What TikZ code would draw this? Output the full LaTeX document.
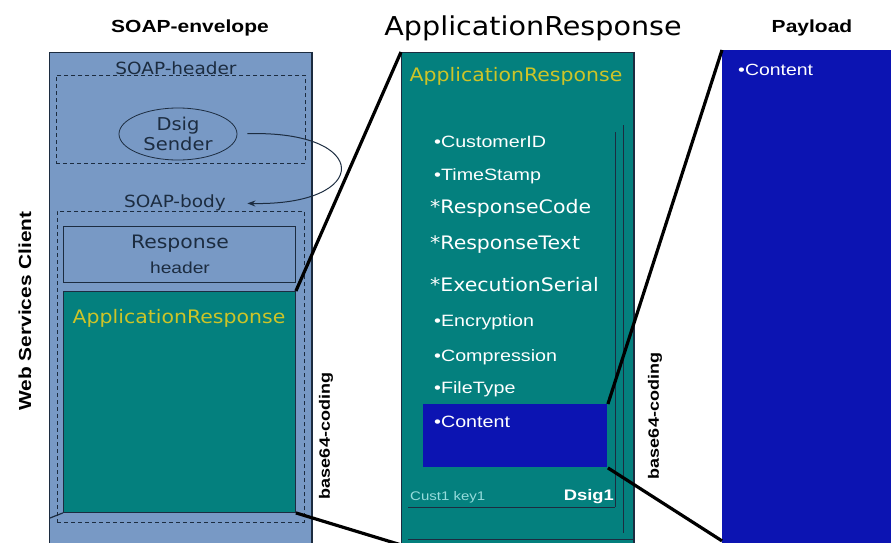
\documentclass[tikz,border=0pt]{standalone}
\usepackage{fontspec}
\setmainfont{Liberation Sans}[FakeStretch=1.2]
\newfontfamily\dvs{DejaVu Sans}[FakeStretch=1.1]
\usetikzlibrary{arrows.meta,shapes.geometric}

\definecolor{envfill}{RGB}{120,153,197}
\definecolor{tealfill}{RGB}{4,128,126}
\definecolor{bluefill}{RGB}{12,20,178}
\definecolor{arylw}{RGB}{205,196,40}
\definecolor{edge}{RGB}{28,44,64}
\definecolor{keytxt}{RGB}{150,220,220}

\newcommand{\fs}[1]{\fontsize{#1}{#1}\selectfont}

\tikzset{
  panel/.style={draw=edge, line width=0.9pt, anchor=north west, inner sep=0pt},
  dashbox/.style={draw=edge, line width=0.8pt, dash pattern=on 4pt off 3pt, anchor=north west, inner sep=0pt},
  zoomline/.style={line width=3.2pt, black},
  innerline/.style={draw=edge, line width=0.9pt},
  title/.style={font=\fs{17.5}\bfseries, text=black},
  item/.style={anchor=west, text=white, inner sep=0pt},
  bitem/.style={item, font=\fs{16.4}},
  ritem/.style={item, font=\dvs\fs{18.6}},
  vlabel/.style={rotate=90, font=\fs{15}\bfseries, text=black},
}

\begin{document}
\begin{tikzpicture}[x=1pt, y=-1pt]
\useasboundingbox (0,0) rectangle (891,543);

% ---------- SOAP envelope (left column) ----------
\node[title] (envtitle) at (190,28) {SOAP-envelope};
\node[panel, fill=envfill, minimum width=262pt, minimum height=492pt] (env) at (49,52) {};
\draw[edge, line width=1.8pt] (env.north east) -- (env.south east);

\node[dashbox, minimum width=249pt, minimum height=88pt] (hdr) at (56,75) {};
\node[font=\dvs\fs{16.8}, text=edge] (hdrlbl) at (176,68) {SOAP-header};
\node[ellipse, draw=edge, line width=0.8pt, minimum width=118pt, minimum height=52pt,
      align=center, font=\dvs\fs{17.7}, text=edge, inner sep=0pt] (dsig) at (178,134)
      {Dsig\\[2pt]Sender};

\node[dashbox, minimum width=247pt, minimum height=311pt] (body) at (57,211) {};
\node[font=\dvs\fs{16.8}, text=edge] (bodylbl) at (175,203) {SOAP-body};

\draw[edge, line width=1pt, -{Stealth[length=8pt,width=6pt]}, shorten <=10pt, shorten >=18pt]
  (dsig.east) .. controls (372,130) and (372,206) .. (bodylbl.east);

\node[panel, fill=envfill, minimum width=232pt, minimum height=56pt] (resph) at (63,226) {};
\node[font=\dvs\fs{18.5}, text=edge] (resplbl) at (180,244) {Response};
\node[font=\fs{16}, text=edge] (resplbl2) at (180,268) {header};

\node[panel, fill=tealfill, minimum width=232pt, minimum height=221pt] (arL) at (63,291) {};
\node[font=\dvs\fs{18.6}, text=arylw] (arLlbl) at (179,318) {ApplicationResponse};

\coordinate (envcorner) at (50,518);
\draw[edge, line width=1.2pt] (envcorner) -- (arL.south west);

\node[font=\fs{17.4}\bfseries, rotate=90] (wsc) at (25,311) {Web Services Client};
\node[vlabel] (b64a) at (326,436) {base64-coding};

% ---------- ApplicationResponse (middle column) ----------
\node[font=\dvs\fs{26}, text=black] (artitle) at (533,28) {ApplicationResponse};
\node[panel, fill=tealfill, minimum width=232pt, minimum height=492pt] (mid) at (401,52) {};
\draw[edge, line width=1.6pt] (mid.north east) -- (mid.south east);
\node[font=\dvs\fs{18.6}, text=arylw] (arMlbl) at (516,76) {ApplicationResponse};

\draw[innerline] (615,132) -- (615,507);
\draw[innerline] (623,125) -- (623,533);
\draw[innerline] (408,507) -- (615,507);
\draw[innerline] (408,539) -- (633,539);

\node[bitem] (cid) at (434,142) {•CustomerID};
\node[bitem] (ts)  at (434,176) {•TimeStamp};
\node[ritem] (rc)  at (430,208) {*ResponseCode};
\node[ritem] (rt)  at (430,245) {*ResponseText};
\node[ritem] (es)  at (430,285) {*ExecutionSerial};
\node[bitem] (enc) at (434,322) {•Encryption};
\node[bitem] (cmp) at (434,357) {•Compression};
\node[bitem] (ft)  at (434,389) {•FileType};

\node[panel, draw=none, fill=bluefill, minimum width=184pt, minimum height=63pt] (content) at (423,404) {};
\node[bitem] (ctxt) at (434,422) {•Content};

\node[anchor=west, inner sep=0pt, font=\fs{12.5}, text=keytxt] (key) at (410,497) {Cust1 key1};
\node[anchor=east, inner sep=0pt, font=\fs{15.3}\bfseries, text=white] (dsig1) at (614,497) {Dsig1};

\node[vlabel] (b64b) at (655,416) {base64-coding};

% ---------- Payload (right column) ----------
\node[title] (paytitle) at (812,28) {Payload};
\node[panel, draw=none, fill=bluefill, minimum width=170pt, minimum height=493pt] (pay) at (722,50) {};
\node[bitem, font=\fs{16.2}] (paytxt) at (738,70) {•Content};

% ---------- zoom connectors ----------
\draw[zoomline] (arL.north east) -- (mid.north west);
\draw[zoomline] (arL.south east) -- (mid.south west);
\draw[zoomline] (content.north east) -- (pay.north west);
\draw[zoomline] (content.south east) -- ([yshift=3pt]pay.south west);
\end{tikzpicture}
\end{document}
